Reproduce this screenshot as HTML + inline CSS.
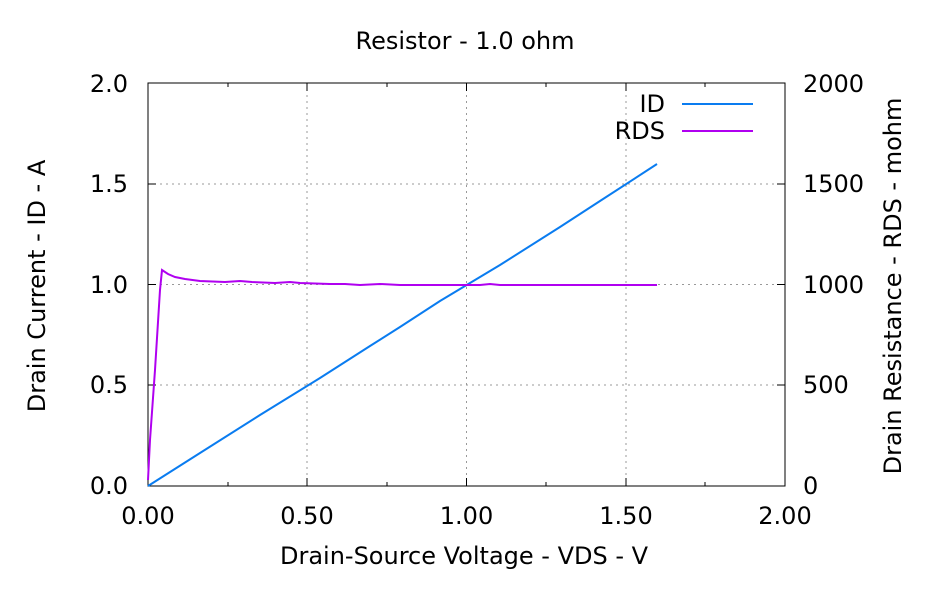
<!DOCTYPE html>
<html><head><meta charset="utf-8"><style>body{margin:0;background:#fff}svg{display:block}text{font-family:"DejaVu Sans","Liberation Sans",sans-serif;font-size:24px;fill:#000}</style></head><body>
<svg width="950" height="600" xmlns="http://www.w3.org/2000/svg">
<g stroke="#999" stroke-width="1" stroke-dasharray="2,4">
<line x1="307" y1="83" x2="307" y2="486"/><line x1="466.5" y1="83" x2="466.5" y2="486"/><line x1="626" y1="83" x2="626" y2="486"/>
<line x1="148" y1="385" x2="785" y2="385"/><line x1="148" y1="284.5" x2="785" y2="284.5"/><line x1="148" y1="184" x2="785" y2="184"/>
</g>
<g stroke="#000" stroke-width="1">
<rect x="148" y="83" width="637" height="403" fill="none"/>
<path d="M148 385h8M148 284.5h8M148 184h8M785 385h-8M785 284.5h-8M785 184h-8M307 486v-8M466.5 486v-8M626 486v-8M307 83v8M466.5 83v8M626 83v8M228 486v-4M387 486v-4M546 486v-4M705 486v-4M228 83v4M387 83v4M546 83v4M705 83v4"/>
</g>
<polyline fill="none" stroke="#0a7cf0" stroke-width="2" points="148,486 200,453 260,415 320,378 370,346 400,327 440,301 500,265 560,227 600,201 657,164"/>
<polyline fill="none" stroke="#b000f0" stroke-width="2" points="148,480 150,440 155,370 160,290 162,270 168,274 175,277 185,279 200,281 225,282 240,281 252,282 275,283 290,282 300,283 330,284 345,284 360,285 380,284 400,285 440,285 470,285 480,285 490,284 500,285 657,285"/>
<line x1="682" y1="104" x2="753" y2="104" stroke="#0a7cf0" stroke-width="2"/>
<line x1="682" y1="131" x2="753" y2="131" stroke="#b000f0" stroke-width="2"/>
<text x="665" y="112" text-anchor="end">ID</text>
<text x="665" y="139" text-anchor="end">RDS</text>
<text x="465" y="49" text-anchor="middle">Resistor - 1.0 ohm</text>
<g text-anchor="end">
<text x="128" y="494">0.0</text><text x="128" y="393">0.5</text><text x="128" y="293">1.0</text><text x="128" y="192">1.5</text><text x="128" y="92">2.0</text>
</g>
<g text-anchor="start">
<text x="803" y="494">0</text><text x="803" y="393">500</text><text x="803" y="293">1000</text><text x="803" y="192">1500</text><text x="803" y="92">2000</text>
</g>
<g text-anchor="middle">
<text x="148" y="524">0.00</text><text x="307" y="524">0.50</text><text x="466.5" y="524">1.00</text><text x="626" y="524">1.50</text><text x="785" y="524">2.00</text>
<text x="464" y="564">Drain-Source Voltage - VDS - V</text>
<text transform="translate(45,286) rotate(-90)">Drain Current - ID - A</text>
<text transform="translate(901,286) rotate(-90)">Drain Resistance - RDS - mohm</text>
</g>
</svg>
</body></html>
